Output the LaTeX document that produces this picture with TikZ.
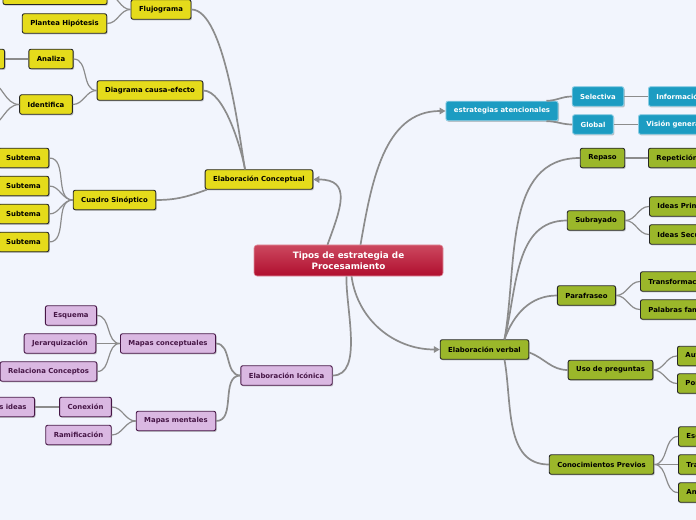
\documentclass[tikz,border=0pt]{standalone}
\usepackage{fontspec}
\setmainfont{DejaVu Sans}
\usetikzlibrary{arrows.meta,shadows}

\definecolor{fondo}{RGB}{242,245,253}
\definecolor{amarilloc}{RGB}{229,219,27}
\definecolor{moradoc}{RGB}{218,184,226}
\definecolor{moradoosc}{RGB}{70,22,70}
\definecolor{azulc}{RGB}{28,156,194}
\definecolor{azulborde}{RGB}{140,205,228}
\definecolor{verdec}{RGB}{155,183,42}
\definecolor{rojoA}{RGB}{204,72,95}
\definecolor{rojoB}{RGB}{176,14,46}
\definecolor{gris}{RGB}{140,140,140}

\tikzset{
  caja/.style={rounded corners=2bp, line width=0.9bp, minimum height=19.5bp,
    inner xsep=8bp, inner ysep=0bp, font=\bfseries\fontsize{6.9bp}{8bp}\selectfont,
    drop shadow={shadow xshift=1bp, shadow yshift=-1.2bp, opacity=0.45}},
  cajaamarilla/.style={caja, fill=amarilloc, draw=black!85, text=black},
  cajamorada/.style={caja, fill=moradoc, draw=moradoosc, text=moradoosc},
  cajaazul/.style={caja, fill=azulc, draw=azulborde, text=white},
  cajaverde/.style={caja, fill=verdec, draw=black!85, text=black},
  raiz/.style={rounded corners=3bp, line width=0.6bp, draw=rojoA!60,
    top color=rojoA, bottom color=rojoB, text=white, align=center,
    minimum width=189bp, minimum height=31bp,
    font=\bfseries\fontsize{8.8bp}{10.5bp}\selectfont},
  rama/.style={draw=gris, line width=1.2bp},
  tronco/.style={draw=gris, line width=1.7bp},
  flecha/.style={tronco, -{Triangle[length=6bp,width=6.5bp]}},
}

\begin{document}
\begin{tikzpicture}[x=1bp, y=-1bp]
\fill[fondo] (0,0) rectangle (696,520);
\useasboundingbox (0,0) rectangle (696,520);
\clip (0,0) rectangle (696,520);

\node[raiz] (centro) at (348.5,260.5) {Tipos de estrategia de\\Procesamiento};

\node[cajaamarilla] (concep) at (259,179.5) {Elaboración Conceptual};
\node[cajaamarilla] (flujo) at (161,9.5) {Flujograma};
\node[cajaamarilla, minimum width=104bp, anchor=south] (arriba) at (55,5) {};
\node[cajaamarilla] (hipo) at (64.5,23.5) {Plantea Hipótesis};
\node[cajaamarilla] (causa) at (150,90.5) {Diagrama causa-efecto};
\node[cajaamarilla] (analiza) at (51,59) {Analiza};
\node[cajaamarilla, minimum width=40bp, anchor=east] (izq) at (5,59) {};
\node[cajaamarilla] (identif) at (46,104.5) {Identifica};
\coordinate (idA) at (-12,82);
\coordinate (idB) at (-12,126);
\node[cajaamarilla] (cuadro) at (114.5,200) {Cuadro Sinóptico};

\node[cajamorada] (iconica) at (286.5,375.5) {Elaboración Icónica};
\node[cajamorada] (mapcon) at (168,343.5) {Mapas conceptuales};
\node[cajamorada] (esquema) at (71,315.5) {Esquema};
\node[cajamorada] (jerarq) at (60,343.5) {Jerarquización};
\node[cajamorada] (relac) at (48.5,371.5) {Relaciona Conceptos};
\node[cajamorada] (mapmen) at (176,421) {Mapas mentales};
\node[cajamorada] (conex) at (85.5,407) {Conexión};
\node[cajamorada, anchor=east, text width=44bp, align=right] (unir) at (35,407) {s ideas};
\node[cajamorada] (ramif) at (78.5,435) {Ramificación};

\node[cajaazul] (atenc) at (502,111) {estrategias atencionales};
\node[cajaazul] (selec) at (598,96.5) {Selectiva};
\node[cajaazul] (global) at (593,124.5) {Global};
\node[cajaazul, anchor=west] (info) at (648,96.5) {Información};
\node[cajaazul, anchor=west] (vision) at (638,124.5) {Visión general};

\node[cajaverde] (verbal) at (484.5,349.5) {Elaboración verbal};
\node[cajaverde] (repaso) at (602.5,158) {Repaso};
\node[cajaverde, anchor=west] (repet) at (648,158) {Repetición};
\node[cajaverde] (subra) at (596,220.5) {Subrayado};
\node[cajaverde, anchor=west] (ideasP) at (649,206.5) {Ideas Principales};
\node[cajaverde, anchor=west] (ideasS) at (649,234.5) {Ideas Secundarias};
\node[cajaverde] (parafr) at (586.5,295.5) {Parafraseo};
\node[cajaverde, anchor=west] (transf) at (640,281.5) {Transformación};
\node[cajaverde, anchor=west] (palab) at (640,309.5) {Palabras familiares};
\node[cajaverde] (usopreg) at (610.5,370) {Uso de preguntas};
\node[cajaverde, anchor=west] (autop) at (677,356) {Autopreguntas};
\node[cajaverde, anchor=west] (porque) at (677,383.5) {Por qué};
\node[cajaverde] (conoc) at (601.5,464.5) {Conocimientos Previos};
\node[cajaverde, anchor=west] (esq) at (678,436.5) {Esquemas};
\node[cajaverde, anchor=west] (transfer) at (678,464.5) {Transferencia};
\node[cajaverde, anchor=west] (analog) at (678,492.5) {Analogías};

\foreach \y [count=\i] in {158,186,214,242} {
  \node[cajaamarilla] (sub\i) at (23.5,\y) {Subtema};
  \draw[rama] (cuadro.west) to[out=180,in=0] (sub\i.east);
}

\draw[flecha] ([xshift=-21bp]centro.north) to[out=70,in=0,looseness=1.5] (concep.east);
\draw[flecha] ([xshift=12bp]centro.north) to[out=80,in=180] (atenc.west);
\draw[flecha] ([xshift=3bp]centro.south) to[out=-82,in=180] (verbal.west);
\draw[tronco] ([xshift=-2bp]centro.south) to[out=-92,in=0,looseness=0.8] (iconica.east);

\draw[tronco] ([xshift=-14bp]concep.north) to[out=100,in=0,looseness=0.5] (flujo.east);
\draw[tronco] ([xshift=-14bp]concep.north) to[out=100,in=0,looseness=0.6] (causa.east);
\draw[tronco] ([xshift=2bp]concep.south west) to[out=200,in=0] (cuadro.east);
\draw[rama] (flujo.west) to[out=180,in=0] (arriba.east);
\draw[rama] (flujo.west) to[out=180,in=0] (hipo.east);
\draw[rama] (causa.west) to[out=180,in=0] (analiza.east);
\draw[rama] (causa.west) to[out=180,in=0] (identif.east);
\draw[rama] (analiza.west) -- (izq.east);
\draw[rama] (identif.west) to[out=180,in=0] (idA);
\draw[rama] (identif.west) to[out=180,in=0] (idB);

\draw[tronco] (iconica.west) to[out=180,in=0] (mapcon.east);
\draw[tronco] (iconica.west) to[out=180,in=0] (mapmen.east);
\draw[rama] (mapcon.west) to[out=180,in=0] (esquema.east);
\draw[rama] (mapcon.west) to[out=180,in=0] (jerarq.east);
\draw[rama] (mapcon.west) to[out=180,in=0] (relac.east);
\draw[rama] (mapmen.west) to[out=180,in=0] (conex.east);
\draw[rama] (mapmen.west) to[out=180,in=0] (ramif.east);
\draw[rama] (conex.west) -- (unir.east);

\draw[tronco] ([xshift=-12bp]atenc.north east) to[out=0,in=180] (selec.west);
\draw[tronco] ([xshift=-12bp]atenc.south east) to[out=0,in=180] (global.west);
\draw[rama] (selec.east) -- (info.west);
\draw[rama] (global.east) -- (vision.west);

\draw[tronco] ([xshift=20bp]verbal.north) to[out=80,in=180] (repaso.west);
\draw[tronco] ([xshift=20bp]verbal.north) to[out=76,in=180] (subra.west);
\draw[tronco] ([xshift=20bp]verbal.north) to[out=70,in=180] (parafr.west);
\draw[tronco] ([yshift=-3bp]verbal.east) to[out=-20,in=180] (usopreg.west);
\draw[tronco] ([xshift=20bp]verbal.south) to[out=-80,in=180] (conoc.west);
\draw[rama] (repaso.east) -- (repet.west);
\draw[rama] (subra.east) to[out=0,in=180] (ideasP.west);
\draw[rama] (subra.east) to[out=0,in=180] (ideasS.west);
\draw[rama] (parafr.east) to[out=0,in=180] (transf.west);
\draw[rama] (parafr.east) to[out=0,in=180] (palab.west);
\draw[rama] (usopreg.east) to[out=0,in=180] (autop.west);
\draw[rama] (usopreg.east) to[out=0,in=180] (porque.west);
\draw[rama] (conoc.east) to[out=0,in=180] (esq.west);
\draw[rama] (conoc.east) -- (transfer.west);
\draw[rama] (conoc.east) to[out=0,in=180] (analog.west);
\end{tikzpicture}
\end{document}
